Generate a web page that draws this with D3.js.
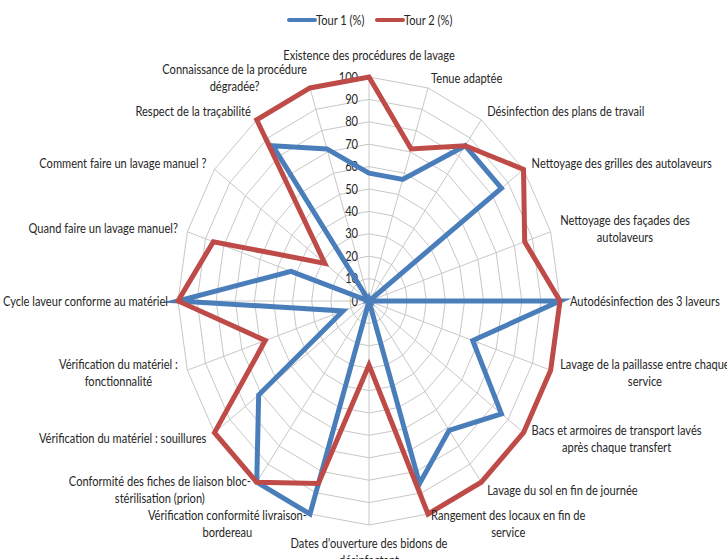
<!DOCTYPE html>
<html><head><meta charset="utf-8">
<script src="https://cdn.jsdelivr.net/npm/d3@7"></script>
<style>
html,body{margin:0;padding:0;background:#fff;}
svg{display:block;}
text{font-family:Lato,"Open Sans",sans-serif;fill:#262626;}
</style></head><body>
<svg id="chart" width="727" height="559"></svg>
<script>
const categories = [
  ["Existence des procédures de lavage"],
  ["Tenue adaptée"],
  ["Désinfection des plans de travail"],
  ["Nettoyage des grilles des autolaveurs"],
  ["Nettoyage des façades des","autolaveurs"],
  ["Autodésinfection des 3 laveurs"],
  ["Lavage de la paillasse entre chaque","service"],
  ["Bacs et armoires de transport lavés","après chaque transfert"],
  ["Lavage du sol en fin de journée"],
  ["Rangement des locaux en fin de","service"],
  ["Dates d'ouverture des bidons de","désinfectant"],
  ["Vérification conformité livraison-","bordereau"],
  ["Conformité des fiches de liaison bloc-","stérilisation (prion)"],
  ["Vérification du matériel : souillures"],
  ["Vérification du matériel :","fonctionnalité"],
  ["Cycle laveur conforme au matériel"],
  ["Quand faire un lavage manuel?"],
  ["Comment faire un lavage manuel ?"],
  ["Respect de la traçabilité"],
  ["Connaissance de la procédure","dégradée?"]
];
const tour1 = [57.1, 57.1, 85.7, 85.7, 0, 100, 57.1, 85.7, 71.4, 85.7, 0, 100, 100, 71.4, 14.3, 100, 42.9, 0, 85.7, 71.4];
const tour2 = [100, 71.4, 85.7, 100, 85.7, 100, 100, 100, 100, 100, 28.6, 85.7, 100, 100, 57.1, 100, 85.7, 28.6, 100, 100];
const tickValues = [0,10,20,30,40,50,60,70,80,90,100];
const seriesNames = ["Tour 1 (%)", "Tour 2 (%)"];
const seriesColors = ["#4A7EBB", "#BE4B48"];

const svg = d3.select("#chart");
const cx = 369, cy = 301, rx = 191, ry = 224;
const sx = 0.853; // horizontal squeeze of the picture
const fs = 13, lh = 17, gap = 10;
const n = categories.length;
const angle = d3.scaleLinear().domain([0, n]).range([0, 2*Math.PI]);
const rX = d3.scaleLinear().domain([0,100]).range([0, rx]);
const rY = d3.scaleLinear().domain([0,100]).range([0, ry]);
const pt = (i, v) => [cx + rX(v)*Math.sin(angle(i)), cy - rY(v)*Math.cos(angle(i))];

// helper: squeezed text group at (x,y)
function sText(parent, x, y) {
  return parent.append("g").attr("transform", `translate(${x},${y}) scale(${sx},1)`);
}

const g = svg.append("g");
tickValues.slice(1).forEach(t => {
  const pts = d3.range(n).map(i => pt(i, t));
  g.append("path").attr("d", d3.line()(pts) + "Z")
    .attr("fill","none").attr("stroke","#c8c8c8").attr("stroke-width",1);
});
d3.range(n).forEach(i => {
  const [x,y] = pt(i,100);
  g.append("line").attr("x1",cx).attr("y1",cy).attr("x2",x).attr("y2",y)
    .attr("stroke","#c8c8c8").attr("stroke-width",1);
});
tickValues.forEach(t => {
  sText(g, cx - 11, cy - rY(t)).append("text").attr("dy","0.35em")
    .attr("text-anchor","end").attr("font-size",fs).attr("fill","#404040").text(t);
});

[tour1, tour2].forEach((vals, s) => {
  const pts = vals.map((v,i) => pt(i, v));
  g.append("path").attr("d", d3.line()(pts) + "Z")
    .attr("fill","none").attr("stroke", seriesColors[s]).attr("stroke-width",5)
    .attr("stroke-linejoin","miter").attr("stroke-miterlimit",10);
});

categories.forEach((lines, i) => {
  const a = angle(i), s = Math.sin(a), c = Math.cos(a);
  const [x0,y0] = pt(i,100);
  const px = x0 + gap*s, py = y0 - gap*c;
  const h = lines.length * lh;
  const grp = sText(g, px, 0);
  const t = grp.append("text").attr("font-size", fs);
  const spans = lines.map(l => t.append("tspan").text(l));
  const widths = spans.map(sp => sp.node().getComputedTextLength());
  const w = d3.max(widths);
  let midX, topY;
  if (Math.abs(s) < 0.01) {
    midX = 0;
    topY = c > 0 ? py - h - 3 : py;
  } else {
    midX = s > 0 ? w/2 : -w/2;
    topY = py - h/2;
  }
  spans.forEach((sp, k) => {
    sp.attr("x", midX).attr("y", topY + lh*k + lh/2).attr("dy","0.35em").attr("text-anchor","middle");
  });
});

const lg = svg.append("g");
const legendX = [289, 377], legendY = 20;
seriesNames.forEach((name, s) => {
  lg.append("line").attr("x1", legendX[s]).attr("x2", legendX[s]+26).attr("y1", legendY).attr("y2", legendY)
    .attr("stroke", seriesColors[s]).attr("stroke-width",4).attr("stroke-linecap","round");
  sText(lg, legendX[s]+27, legendY).append("text").attr("dy","0.35em")
    .attr("font-size",fs).text(name);
});
</script>
</body></html>
